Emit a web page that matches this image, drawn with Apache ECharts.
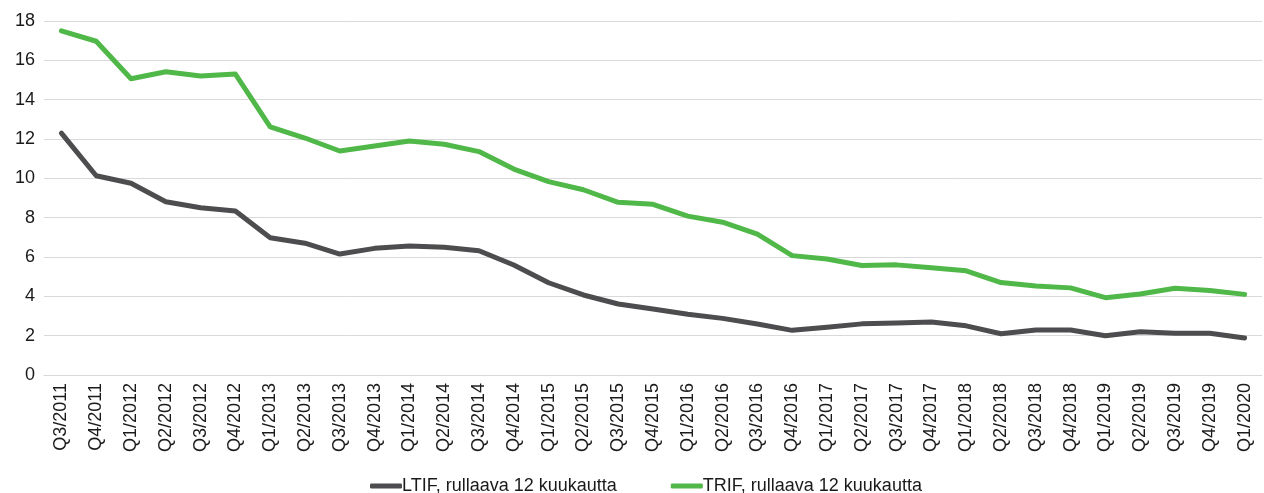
<!DOCTYPE html>
<html>
<head>
<meta charset="utf-8">
<script src="https://cdn.jsdelivr.net/npm/echarts@6/dist/echarts.min.js"></script>
<style>
  html, body { margin: 0; padding: 0; background: #fff; }
  #chart { width: 1264px; height: 493px; }
</style>
</head>
<body>
<div id="chart"></div>
<script>
const quarters = [
  "Q3/2011", "Q4/2011",
  "Q1/2012", "Q2/2012", "Q3/2012", "Q4/2012",
  "Q1/2013", "Q2/2013", "Q3/2013", "Q4/2013",
  "Q1/2014", "Q2/2014", "Q3/2014", "Q4/2014",
  "Q1/2015", "Q2/2015", "Q3/2015", "Q4/2015",
  "Q1/2016", "Q2/2016", "Q3/2016", "Q4/2016",
  "Q1/2017", "Q2/2017", "Q3/2017", "Q4/2017",
  "Q1/2018", "Q2/2018", "Q3/2018", "Q4/2018",
  "Q1/2019", "Q2/2019", "Q3/2019", "Q4/2019",
  "Q1/2020"
];

const ltif = [
  12.3, 10.13,
  9.75, 8.81, 8.5, 8.34,
  6.98, 6.7, 6.15, 6.44,
  6.56, 6.49, 6.32, 5.59,
  4.69, 4.07, 3.61, 3.36,
  3.09, 2.88, 2.59, 2.27,
  2.43, 2.6, 2.65, 2.7,
  2.5, 2.1, 2.29, 2.29,
  2.0, 2.2, 2.12, 2.12,
  1.88
];

const trif = [
  17.5, 16.97,
  15.06, 15.42, 15.2, 15.3,
  12.62, 12.05, 11.39, 11.64,
  11.9, 11.73, 11.36, 10.47,
  9.83, 9.42, 8.78, 8.68,
  8.08, 7.77, 7.16, 6.07,
  5.9, 5.57, 5.6, 5.45,
  5.3, 4.7, 4.52, 4.43,
  3.93, 4.12, 4.41, 4.3,
  4.1
];

const yTicks = { min: 0, max: 18, step: 2 };

const labelFont = "Liberation Sans";
const textColor = "#1a1a1a";
const gridColor = "#d9d9d9";

const chart = echarts.init(document.getElementById("chart"), null, { renderer: "canvas" });

const option = {
  animation: false,
  grid: {
    left: 44,
    right: 2,
    top: 21,
    bottom: 118,
    containLabel: false,
  },
  legend: {
    top: 472,
    left: 365,
    itemWidth: 32,
    itemHeight: 5,
    itemGap: 54,
    icon: "roundRect",
    textStyle: {
      color: textColor,
      fontFamily: labelFont,
      fontSize: 18,
      padding: [0, 0, 0, -5],
    },
    data: ["LTIF, rullaava 12 kuukautta", "TRIF, rullaava 12 kuukautta"],
  },
  xAxis: {
    type: "category",
    data: quarters,
    boundaryGap: true,
    axisLine: { show: true, lineStyle: { color: gridColor, width: 1 } },
    axisTick: { show: false },
    axisLabel: {
      interval: 0,
      rotate: 90,
      margin: 8,
      color: textColor,
      fontFamily: labelFont,
      fontSize: 18,
    },
  },
  yAxis: {
    type: "value",
    min: yTicks.min,
    max: yTicks.max,
    interval: yTicks.step,
    axisLine: { show: false },
    axisTick: { show: false },
    axisLabel: {
      margin: 9,
      color: textColor,
      fontFamily: labelFont,
      fontSize: 18,
    },
    splitLine: { lineStyle: { color: gridColor, width: 1 } },
  },
  series: [
    {
      name: "LTIF, rullaava 12 kuukautta",
      type: "line",
      data: ltif,
      symbol: "none",
      lineStyle: { width: 5, color: "#4d4d4f", cap: "round", join: "round" },
      itemStyle: { color: "#4d4d4f" },
    },
    {
      name: "TRIF, rullaava 12 kuukautta",
      type: "line",
      data: trif,
      symbol: "none",
      lineStyle: { width: 5, color: "#50b848", cap: "round", join: "round" },
      itemStyle: { color: "#50b848" },
    },
  ],
};

chart.setOption(option);
</script>
</body>
</html>
